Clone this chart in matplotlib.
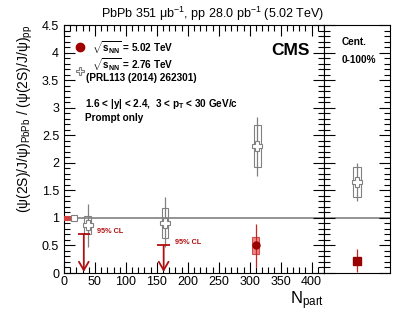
import matplotlib
matplotlib.use('Agg')
import matplotlib.pyplot as plt
from matplotlib.patches import Rectangle
from matplotlib.ticker import MultipleLocator, NullFormatter

plt.rcParams['font.family'] = ['Liberation Sans', 'DejaVu Sans']
plt.rcParams['mathtext.fontset'] = 'custom'
plt.rcParams['mathtext.rm'] = 'Liberation Sans'
plt.rcParams['mathtext.it'] = 'Liberation Sans:italic'
plt.rcParams['mathtext.bf'] = 'Liberation Sans:bold'
plt.rcParams['mathtext.default'] = 'regular'

# 2.76 TeV (PRL113 (2014) 262301), centrality bins
npart_276 = [38, 163, 312]
ratio_276 = [0.87, 0.91, 2.30]
stat_lo_276 = [0.40, 0.44, 0.54]
stat_hi_276 = [0.39, 0.47, 0.53]
syst_276 = [0.17, 0.27, 0.38]

# 5.02 TeV, measured bin
npart_502 = [310]
ratio_502 = [0.50]
stat_502 = [0.39]
syst_502 = [0.15]

# 5.02 TeV upper limits (95% CL)
ul_npart = [32, 161]
ul_value = [0.70, 0.50]
ul_label_x = [54, 180]
ul_label_y = [0.75, 0.55]

# global uncertainties at unity
glob_502 = 0.035
glob_276 = 0.06

# integrated 0-100%
int_276 = 1.65
int_276_stat = [0.34, 0.34]
int_276_syst = 0.28
int_502 = 0.22
int_502_stat = [0.21, 0.21]

red = '#990000'
red_ul = '#b01010'
red_box = '#e06060'
gray = '#808080'

fig = plt.figure(figsize=(4.07, 3.12), dpi=100)
ax = fig.add_axes([64 / 407, 1 - 273 / 312, 260 / 407, 248 / 312])
ax2 = fig.add_axes([324 / 407, 1 - 273 / 312, 66 / 407, 248 / 312])

# unity line
ax.axhline(1, color=gray, lw=1.2, zorder=1)
ax2.axhline(1, color=gray, lw=1.2, zorder=1)

# global uncertainty boxes
ax.add_patch(Rectangle((0, 1 - glob_502), 9, 2 * glob_502, facecolor='#d04040',
                       edgecolor='#d04040', lw=0.8, zorder=3))
ax.add_patch(Rectangle((12, 1 - glob_276), 9, 2 * glob_276, facecolor='white',
                       edgecolor=gray, lw=0.8, zorder=3))

# 2.76 TeV points
for x, y, s in zip(npart_276, ratio_276, syst_276):
    ax.add_patch(Rectangle((x - 5.5, y - s), 11, 2 * s, facecolor='none',
                           edgecolor=gray, lw=0.8, zorder=2))
ax.errorbar(npart_276, ratio_276, yerr=[stat_lo_276, stat_hi_276], fmt='P',
            color=gray, mfc='white', mec=gray, ms=7, mew=0.8, elinewidth=0.9,
            capsize=0, zorder=4)

# 5.02 TeV point
for x, y, s in zip(npart_502, ratio_502, syst_502):
    ax.add_patch(Rectangle((x - 5.5, y - s), 11, 2 * s, facecolor=red_box,
                           alpha=0.75, edgecolor='#cc2222', lw=0.8, zorder=2))
ax.errorbar(npart_502, ratio_502, yerr=stat_502, fmt='o', color='#cc2222',
            mfc=red, mec=red, ms=5, elinewidth=0.9, capsize=0, zorder=4)

# upper limits
ax.errorbar(ul_npart, ul_value, xerr=10, fmt='none', ecolor=red_ul, elinewidth=1.3,
            capsize=0, zorder=4)
for x, y in zip(ul_npart, ul_value):
    ax.annotate('', xy=(x, 0.02), xytext=(x, y),
                arrowprops=dict(arrowstyle='->,head_length=0.6,head_width=0.35',
                                color=red_ul, lw=1.3, shrinkA=0, shrinkB=0), zorder=4)
for x, y in zip(ul_label_x, ul_label_y):
    ax.text(x, y, '95% CL', color=red_ul, fontsize=5.2, fontweight='bold',
            ha='left', va='center')

ax.set_xlim(0, 420)
ax.set_ylim(0, 4.5)
ax.xaxis.set_major_locator(MultipleLocator(50))
ax.xaxis.set_minor_locator(MultipleLocator(10))
ax.yaxis.set_major_locator(MultipleLocator(0.5))
ax.yaxis.set_minor_locator(MultipleLocator(0.1))
ax.yaxis.set_major_formatter(plt.FuncFormatter(lambda v, p: f'{v:g}'))
ax.tick_params(which='both', direction='in', top=True, right=True, labelsize=9)
ax.tick_params(which='major', length=8, width=0.8)
ax.tick_params(which='minor', length=4, width=0.8)
ax.tick_params(axis='x', pad=2)

ax.set_xlabel(r'N$_{part}$', fontsize=12, loc='right', labelpad=1)
ax.set_ylabel(r'$(\psi(2S)/J/\psi)_{PbPb}$ / $(\psi(2S)/J/\psi)_{pp}$',
              fontsize=10, loc='top')
ax.yaxis.set_label_coords(-0.11, 1.0)
ax.set_title('PbPb 351 μb$^{-1}$, pp 28.0 pb$^{-1}$ (5.02 TeV)', fontsize=9,
             loc='right', pad=5)

# legend and labels
fs = 7.2
ax.plot([0.062], [0.91], 'o', color='#a00000', ms=6, transform=ax.transAxes)
ax.plot([0.062], [0.816], 'P', mfc='white', mec=gray, mew=0.8, ms=6,
        transform=ax.transAxes)
ax.text(0.106, 0.91, r'$\sqrt{\mathbf{s_{NN}}}$ = 5.02 TeV', fontsize=fs,
        fontweight='bold', va='center', transform=ax.transAxes)
ax.text(0.106, 0.84, r'$\sqrt{\mathbf{s_{NN}}}$ = 2.76 TeV', fontsize=fs,
        fontweight='bold', va='center', transform=ax.transAxes)
ax.text(0.085, 0.785, '(PRL113 (2014) 262301)', fontsize=fs,
        fontweight='bold', va='center', transform=ax.transAxes)
ax.text(0.081, 0.681, r'1.6 < |y| < 2.4,  3 < p$_{\mathbf{T}}$ < 30 GeV/c',
        fontsize=fs, fontweight='bold', va='center', transform=ax.transAxes)
ax.text(0.081, 0.624, 'Prompt only', fontsize=fs, fontweight='bold',
        va='center', transform=ax.transAxes)
ax.text(0.946, 0.899, 'CMS', fontsize=12.5, fontweight='bold', ha='right',
        va='center', transform=ax.transAxes)

# integrated panel
ax2.add_patch(Rectangle((0.44, int_276 - int_276_syst), 0.12, 2 * int_276_syst,
                        facecolor='none', edgecolor=gray, lw=0.8, zorder=2))
ax2.errorbar([0.5], [int_276], yerr=[[int_276_stat[0]], [int_276_stat[1]]], fmt='P',
             color=gray, mfc='white', mec=gray, ms=7, mew=0.8, elinewidth=0.9,
             capsize=0, zorder=4)
ax2.errorbar([0.5], [int_502], yerr=[[int_502_stat[0]], [int_502_stat[1]]], fmt='s',
             color='#cc2222', mfc=red, mec=red, ms=5.5, elinewidth=0.9,
             capsize=0, zorder=4)
ax2.set_xlim(0, 1)
ax2.set_ylim(0, 4.5)
ax2.set_xticks([])
ax2.yaxis.set_major_locator(MultipleLocator(0.5))
ax2.yaxis.set_minor_locator(MultipleLocator(0.1))
ax2.yaxis.set_major_formatter(NullFormatter())
ax2.tick_params(which='both', direction='in', left=True, right=True)
ax2.tick_params(which='major', length=8, width=0.8)
ax2.tick_params(which='minor', length=4, width=0.8)
ax2.text(0.27, 0.931, 'Cent.', fontsize=fs, fontweight='bold', va='center',
         transform=ax2.transAxes)
ax2.text(0.27, 0.859, '0-100%', fontsize=fs, fontweight='bold', va='center',
         transform=ax2.transAxes)

fig.savefig('out.png', dpi=100)
